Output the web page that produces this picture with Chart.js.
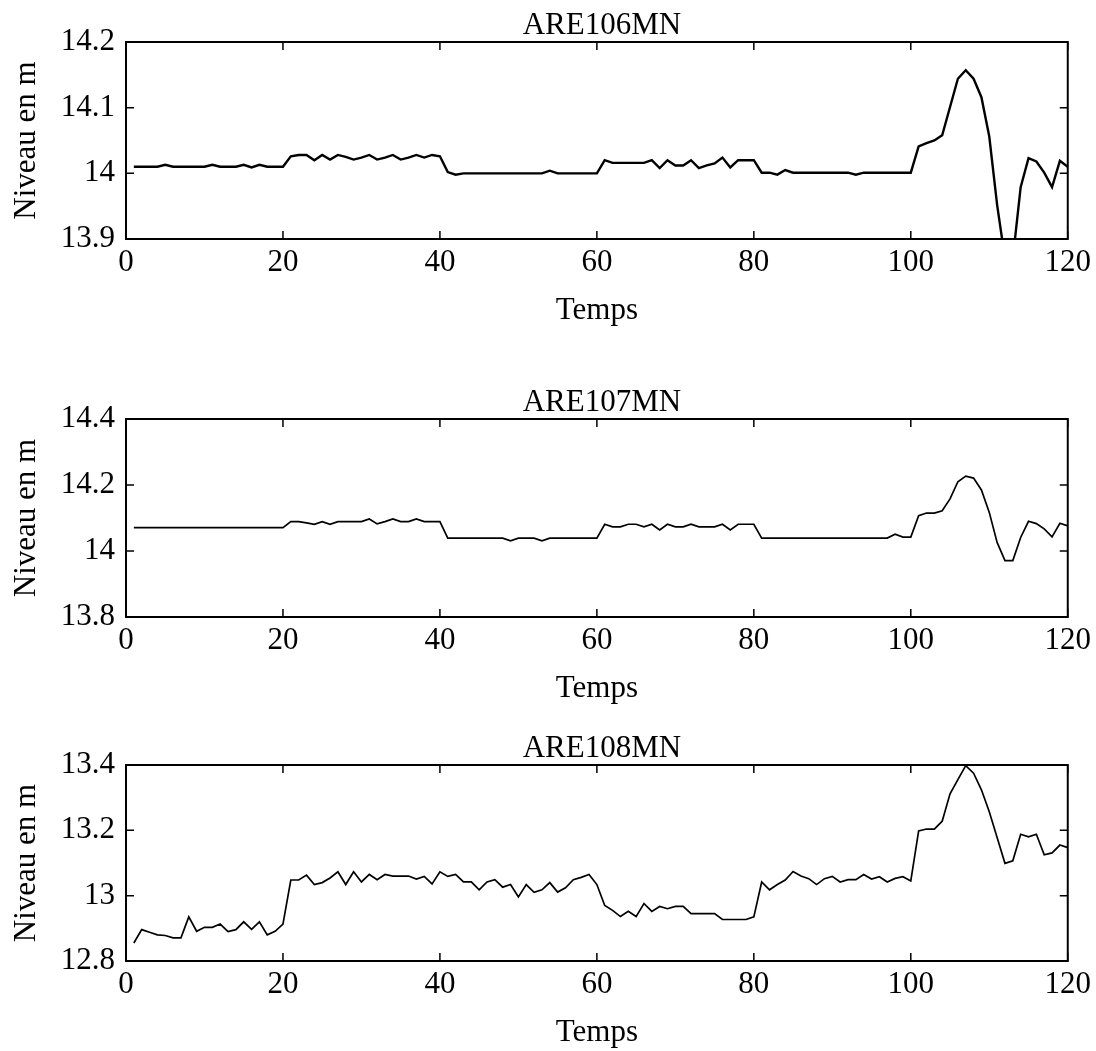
<!DOCTYPE html>
<html>
<head>
<meta charset="utf-8">
<script src="https://cdn.jsdelivr.net/npm/chart.js@4/dist/chart.umd.min.js"></script>
<style>
  html, body { margin: 0; padding: 0; background: #fff; }
  body { position: relative; width: 1096px; height: 1051px; overflow: hidden; }
  canvas { position: absolute; left: 0; }
</style>
</head>
<body>
<canvas id="p106" width="1096" height="377" style="top:0px"></canvas>
<canvas id="p107" width="1096" height="346" style="top:377px"></canvas>
<canvas id="p108" width="1096" height="328" style="top:723px"></canvas>
<script>
// pas de temps 1..120
const temps = Array.from({ length: 120 }, (_, i) => i + 1);

const niveau106 = [
  14.01, 14.01, 14.01, 14.01, 14.013, 14.01, 14.01, 14.01, 14.01, 14.01,
  14.013, 14.01, 14.01, 14.01, 14.013, 14.009, 14.013, 14.01, 14.01, 14.01,
  14.026, 14.028, 14.028, 14.02, 14.028, 14.021, 14.028, 14.025, 14.021, 14.024,
  14.028, 14.021, 14.024, 14.028, 14.021, 14.024, 14.028, 14.024, 14.028, 14.026,
  14.002, 13.998, 14.0, 14.0, 14.0, 14.0, 14.0, 14.0, 14.0, 14.0,
  14.0, 14.0, 14.0, 14.004, 14.0, 14.0, 14.0, 14.0, 14.0, 14.0,
  14.02, 14.016, 14.016, 14.016, 14.016, 14.016, 14.02, 14.008, 14.02, 14.012,
  14.012, 14.02, 14.008, 14.012, 14.015, 14.024, 14.009, 14.02, 14.02, 14.02,
  14.001, 14.001, 13.998, 14.005, 14.001, 14.001, 14.001, 14.001, 14.001, 14.001,
  14.001, 14.001, 13.998, 14.001, 14.001, 14.001, 14.001, 14.001, 14.001, 14.001,
  14.041, 14.046, 14.05, 14.058, 14.101, 14.144, 14.157, 14.144, 14.116, 14.056,
  13.952, 13.87, 13.87, 13.979, 14.023, 14.018, 14.001, 13.979, 14.019, 14.01
];

const niveau107 = [
  14.071, 14.071, 14.071, 14.071, 14.071, 14.071, 14.071, 14.071, 14.071, 14.071,
  14.071, 14.071, 14.071, 14.071, 14.071, 14.071, 14.071, 14.071, 14.071, 14.071,
  14.089, 14.089, 14.085, 14.081, 14.089, 14.081, 14.089, 14.089, 14.089, 14.089,
  14.097, 14.082, 14.089, 14.097, 14.089, 14.089, 14.097, 14.089, 14.089, 14.089,
  14.039, 14.039, 14.039, 14.039, 14.039, 14.039, 14.039, 14.039, 14.031, 14.039,
  14.039, 14.039, 14.031, 14.039, 14.039, 14.039, 14.039, 14.039, 14.039, 14.039,
  14.081, 14.073, 14.073, 14.081, 14.081, 14.073, 14.081, 14.064, 14.081, 14.073,
  14.073, 14.081, 14.073, 14.073, 14.073, 14.081, 14.064, 14.081, 14.081, 14.081,
  14.039, 14.039, 14.039, 14.039, 14.039, 14.039, 14.039, 14.039, 14.039, 14.039,
  14.039, 14.039, 14.039, 14.039, 14.039, 14.039, 14.039, 14.051, 14.042, 14.042,
  14.107, 14.115, 14.115, 14.122, 14.158, 14.21, 14.227, 14.221, 14.185, 14.117,
  14.026, 13.971, 13.971, 14.041, 14.09, 14.083, 14.067, 14.043, 14.084, 14.076
];

const niveau108 = [
  12.855, 12.896, 12.888, 12.88, 12.878, 12.871, 12.871, 12.935, 12.891, 12.903,
  12.903, 12.913, 12.89, 12.896, 12.92, 12.897, 12.92, 12.88, 12.891, 12.913,
  13.048, 13.048, 13.063, 13.034, 13.04, 13.054, 13.073, 13.034, 13.073, 13.042,
  13.065, 13.049, 13.065, 13.06, 13.06, 13.06, 13.051, 13.059, 13.036, 13.073,
  13.059, 13.065, 13.042, 13.042, 13.018, 13.042, 13.049, 13.026, 13.034, 12.996,
  13.034, 13.01, 13.018, 13.04, 13.011, 13.024, 13.049, 13.056, 13.065, 13.034,
  12.97, 12.955, 12.936, 12.952, 12.936, 12.976, 12.952, 12.967, 12.96, 12.967,
  12.967, 12.945, 12.945, 12.945, 12.945, 12.927, 12.927, 12.927, 12.927, 12.935,
  13.042, 13.018, 13.034, 13.048, 13.074, 13.06, 13.052, 13.034, 13.052, 13.059,
  13.042, 13.049, 13.049, 13.065, 13.051, 13.058, 13.042, 13.053, 13.058, 13.045,
  13.198, 13.204, 13.204, 13.228, 13.312, 13.355, 13.398, 13.375, 13.324, 13.257,
  13.178, 13.099, 13.107, 13.188, 13.18, 13.188, 13.125, 13.131, 13.155, 13.147
];

const ticksTemps = [0, 20, 40, 60, 80, 100, 120];

const police = "'Liberation Serif', 'Times New Roman', serif";
Chart.defaults.font.family = police;
Chart.defaults.color = '#000';

// cadre, graduations vers l'interieur (style matlab) et titre centre sur la zone de trace
const cadre = {
  id: 'cadre',
  afterDatasetsDraw(chart, args, opts) {
    const { ctx, chartArea: a, scales: { x, y } } = chart;
    const len = 8;
    ctx.save();
    ctx.strokeStyle = '#000';
    ctx.lineWidth = 1.5;
    ctx.beginPath();
    x.ticks.forEach(t => {
      const px = x.getPixelForValue(t.value);
      ctx.moveTo(px, a.bottom); ctx.lineTo(px, a.bottom - len);
      ctx.moveTo(px, a.top); ctx.lineTo(px, a.top + len);
    });
    y.ticks.forEach(t => {
      const py = y.getPixelForValue(t.value);
      ctx.moveTo(a.left, py); ctx.lineTo(a.left + len, py);
      ctx.moveTo(a.right, py); ctx.lineTo(a.right - len, py);
    });
    ctx.stroke();
    ctx.lineWidth = 2;
    ctx.strokeRect(a.left, a.top, a.right - a.left, a.bottom - a.top);

    ctx.fillStyle = '#000';
    ctx.font = '31px ' + police;
    ctx.textAlign = 'center';
    ctx.textBaseline = 'alphabetic';
    ctx.fillText(opts.titre, (a.left + a.right) / 2 + 5, a.top - 8);
    ctx.restore();
  }
};

function trace(id, titre, valeurs, ymin, ymax, pas, bas, epaisseur) {
  const canvas = document.getElementById(id);
  const H = canvas.height;
  new Chart(canvas.getContext('2d'), {
    type: 'line',
    data: {
      datasets: [{
        data: temps.map((t, i) => ({ x: t, y: valeurs[i] })),
        borderColor: '#000',
        borderWidth: epaisseur,
        pointRadius: 0,
        tension: 0,
        fill: false
      }]
    },
    options: {
      responsive: false,
      animation: false,
      devicePixelRatio: 1,
      layout: { padding: { top: 42, left: 0, right: 27, bottom: 0 } },
      plugins: {
        legend: { display: false },
        tooltip: { enabled: false },
        title: { display: false },
        cadre: { titre: titre }
      },
      scales: {
        x: {
          type: 'linear',
          min: 0,
          max: 120,
          afterBuildTicks: s => { s.ticks = ticksTemps.map(v => ({ value: v })); },
          ticks: { padding: 5, font: { size: 31 }, maxRotation: 0 },
          grid: { display: false, drawTicks: false },
          border: { display: false },
          title: {
            display: true,
            text: 'Temps',
            font: { size: 31 },
            padding: { top: 0, bottom: H - (bas + 72) - 18.6 }
          },
          afterFit: s => { s.height = H - bas - 42 + 42; }
        },
        y: {
          min: ymin,
          max: ymax,
          ticks: {
            stepSize: pas,
            padding: 11,
            font: { size: 31 },
            callback: v => String(Number(v.toFixed(2)))
          },
          grid: { display: false, drawTicks: false },
          border: { display: false },
          title: {
            display: true,
            text: 'Niveau en m',
            font: { size: 31 },
            padding: { top: 8, bottom: 0 }
          },
          afterFit: s => { s.width = 126; }
        }
      }
    },
    plugins: [cadre]
  });
}

trace('p106', 'ARE106MN', niveau106, 13.9, 14.2, 0.1, 239, 2.4);
trace('p107', 'ARE107MN', niveau107, 13.8, 14.4, 0.2, 240, 1.7);
trace('p108', 'ARE108MN', niveau108, 12.8, 13.4, 0.2, 238, 1.7);
</script>
</body>
</html>
